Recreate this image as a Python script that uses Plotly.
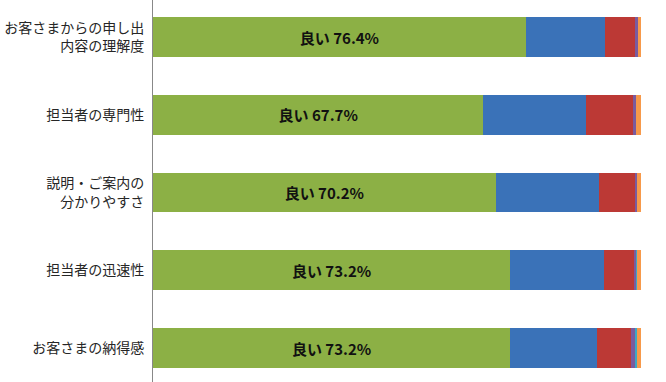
import plotly.graph_objects as go

categories = ["お客さまからの申し出<br>内容の理解度", "担当者の専門性", "説明・ご案内の<br>分かりやすさ",
              "担当者の迅速性", "お客さまの納得感"]
series_names = ["良い", "やや良い", "普通", "やや悪い", "悪い", "無回答"]
good = [76.4, 67.7, 70.2, 73.2, 73.2]
fairly_good = [16.2, 21.0, 21.2, 19.3, 17.8]
neutral = [6.3, 9.8, 7.4, 6.1, 7.0]
fairly_bad = [0.4, 0.4, 0.3, 0.4, 0.8]
bad = [0.0, 0.0, 0.0, 0.1, 0.3]
no_answer = [0.7, 1.1, 0.9, 0.9, 0.9]
colors = ["#8CB045", "#3A72B8", "#BC3935", "#7A5B9E", "#3CA8C6", "#F7994A"]

values = [good, fairly_good, neutral, fairly_bad, bad, no_answer]

fig = go.Figure()
for i, (name, vals) in enumerate(zip(series_names, values)):
    kw = {}
    if i == 0:
        kw = dict(text=[f"<b>良い {v:.1f}%</b>" for v in vals], textposition="inside",
                  insidetextanchor="middle",
                  textfont=dict(family="Noto Sans CJK JP", size=15, color="#111111"))
    fig.add_trace(go.Bar(y=categories, x=vals, name=name, orientation="h",
                         marker=dict(color=colors[i], line=dict(width=0)), **kw))

fig.update_layout(
    width=666, height=382, barmode="stack", bargap=0.49,
    margin=dict(l=153, r=25, t=0, b=0),
    plot_bgcolor="white", paper_bgcolor="white", showlegend=False,
    font=dict(family="Noto Sans CJK JP", size=14, color="#262626"),
    xaxis=dict(range=[0, 100], showgrid=False, zeroline=False, showticklabels=False,
               ticks="", automargin=False),
    yaxis=dict(type="category", range=[4.437, -0.476], showline=True, linecolor="#888888",
               linewidth=1, ticks="", showgrid=False, ticklabelstandoff=5, automargin=False,
               tickfont=dict(size=14, color="#262626")),
)
fig.write_html("out.html", config={"displayModeBar": False},
               post_script="document.body.style.margin='0';document.body.style.overflow='hidden';")
